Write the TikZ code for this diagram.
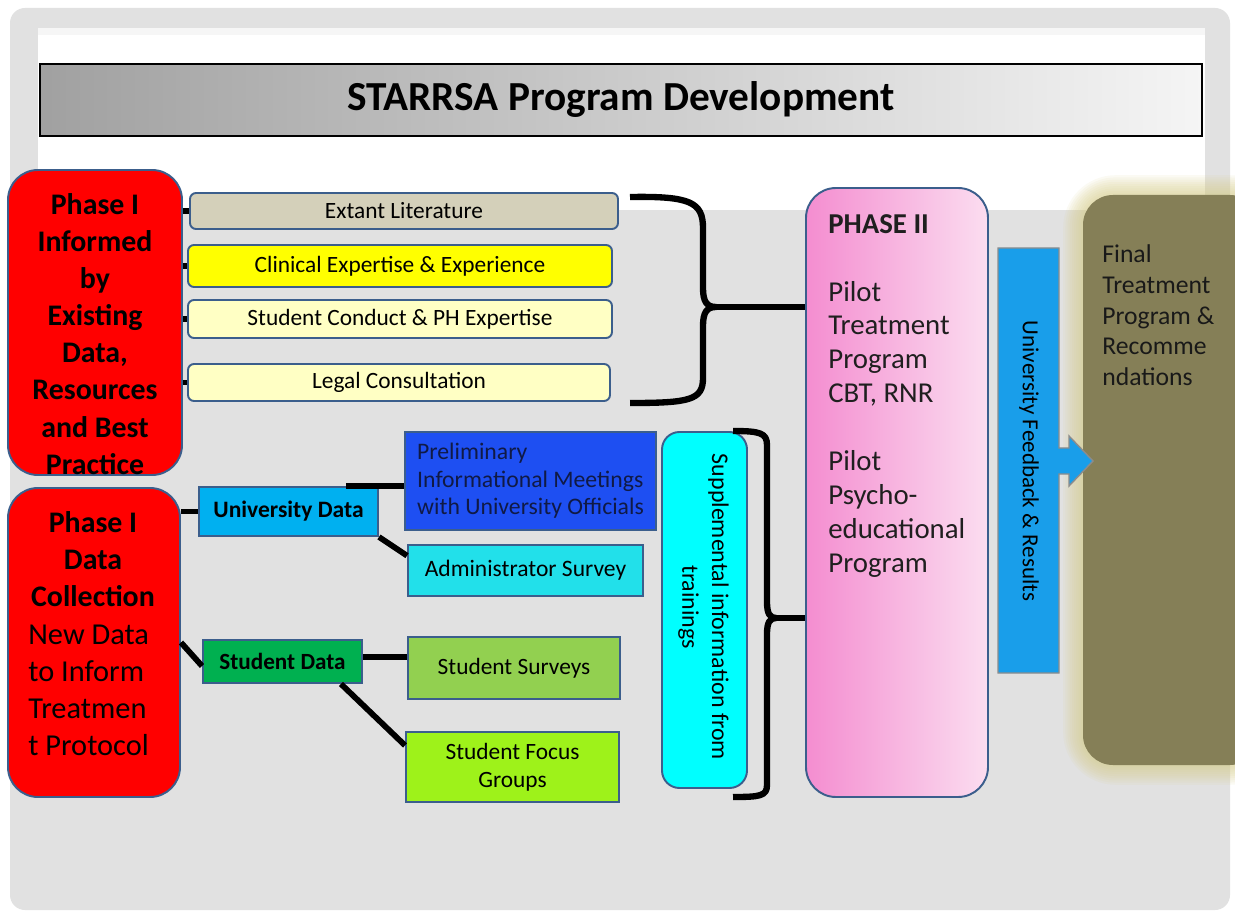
\documentclass[tikz,border=0pt]{standalone}
\usepackage{fontspec}
\setmainfont{Carlito}
\usetikzlibrary{calc}

\definecolor{bggray}{HTML}{E1E1E1}
\definecolor{edge}{HTML}{3B5E8C}
\definecolor{redfill}{HTML}{FF0000}
\definecolor{litfill}{HTML}{D4D0BA}
\definecolor{yelfill}{HTML}{FFFF00}
\definecolor{lyelfill}{HTML}{FFFFC4}
\definecolor{univfill}{HTML}{00B0F0}
\definecolor{prelimfill}{HTML}{1E4FF2}
\definecolor{adminfill}{HTML}{22E0EA}
\definecolor{studfill}{HTML}{00B050}
\definecolor{survfill}{HTML}{92D050}
\definecolor{focusfill}{HTML}{9EF21A}
\definecolor{suppfill}{HTML}{00FFFF}
\definecolor{pinkA}{HTML}{F48DD0}
\definecolor{pinkB}{HTML}{FBDDF0}
\definecolor{fbfill}{HTML}{199EEA}
\definecolor{olivefill}{HTML}{857F57}
\definecolor{glowcol}{HTML}{D6CC85}
\definecolor{navytext}{HTML}{101A45}

\tikzset{
  sz/.style n args={2}{minimum width=#1*0.02cm, minimum height=#2*0.02cm},
  box/.style={draw=edge, line width=1.1pt, inner sep=0pt, align=center, text=black},
  smallbox/.style={box, rounded corners=0.12cm},
  bigbox/.style={box, rounded corners=0.6cm},
  conn/.style={line width=3.3pt, black},
  bracepath/.style={line width=3.6pt, black, line join=round},
  itemfont/.style={font=\fontsize{13.3}{15}\selectfont},
  boldfont/.style={font=\fontsize{13.4}{15}\selectfont\bfseries},
  redbold/.style={font={\fontsize{17}{21.1}\selectfont\bfseries}},
  redplain/.style={font={\fontsize{17.3}{21.1}\selectfont}},
}

\begin{document}
\begin{tikzpicture}[x=0.02cm, y=-0.02cm]
\useasboundingbox (0,0) rectangle (1235,912);
\clip (0,0) rectangle (1235,912);

% slide background
\fill[white] (0,0) rectangle (1235,912);
\fill[bggray, rounded corners=0.3cm] (10,8) rectangle (1230,910);
\fill[white] (38,35) rectangle (1205,210);
\fill[white!70!bggray] (38,28) rectangle (1205,35);

% title bar
\node[draw=black, line width=1.3pt, left color=black!37, right color=white!96!black,
      sz={1162}{72}, inner sep=0pt, font=\fontsize{23.5}{28}\selectfont\bfseries]
      (title) at (621,100) {\raisebox{-2pt}{STARRSA Program Development}};

% Phase I : existing data
\node[bigbox, fill=redfill, sz={174}{305}] (red1) at (95,322.5) {};
\node[redbold, align=center, inner sep=0pt] (red1txt) at (95,334)
  {Phase I\\Informed\\by\\Existing\\Data,\\Resources\\and Best\\Practice};

\node[smallbox, fill=litfill, sz={428}{36}, itemfont] (lit) at (404,211) {Extant Literature};
\node[smallbox, fill=yelfill, sz={424}{42}, itemfont] (clin) at (400,266) {Clinical Expertise \& Experience};
\node[smallbox, fill=lyelfill, sz={424}{38}, itemfont] (cond) at (400,319) {Student Conduct \& PH Expertise};
\node[smallbox, fill=lyelfill, sz={422}{37}, itemfont] (legal) at (399,382.5) {Legal Consultation};

\foreach \n in {lit,clin,cond,legal}
  \draw[conn] (red1.east |- \n.west) -- (\n.west);

% Phase I : data collection
\node[bigbox, fill=redfill, sz={172}{309}] (red2) at (94,642.5) {};
\node[redbold, align=center, inner sep=0pt] (red2head) at (93,559)
  {Phase I\\Data\\Collection};
\node[redplain, align=left, inner sep=0pt, anchor=west] (red2body) at (28,690)
  {New Data\\to Inform\\Treatmen\\t Protocol};

\node[box, fill=univfill, sz={179}{49}, boldfont] (univ) at (288.5,511.5) {University Data};
\node[box, fill=prelimfill, sz={251}{98}, align=left, text=navytext,
      font=\fontsize{13.5}{15.6}\selectfont] (prelim) at (530.5,481)
  {Preliminary\\Informational Meetings\\with University Officials};
\node[box, fill=adminfill, sz={235}{51}, font=\fontsize{13.4}{15}\selectfont] (admin) at (525.5,570.5) {Administrator Survey};
\node[box, fill=studfill, sz={159}{43}, font=\fontsize{13.2}{15}\selectfont\bfseries] (stud) at (282.5,661.5) {Student Data};
\node[box, fill=survfill, sz={212}{62}, font=\fontsize{13.3}{15}\selectfont] (surv) at (514,668) {Student Surveys};
\node[box, fill=focusfill, sz={213}{70}, font=\fontsize{13.3}{16}\selectfont] (focus) at (512.5,767) {Student Focus\\Groups};

\draw[conn] (red2.east |- univ.west) -- (univ.west);
\draw[conn] (red2.east) -- ($(stud.north west)!0.6!(stud.south west)$);
\draw[conn] ($(univ.north east)+(-33,0)$) -- (prelim.west |- univ.north);
\draw[conn] (univ.south east) -- ($(admin.north west)!0.22!(admin.south west)$);
\draw[conn] ($(stud.north east)!0.4!(stud.south east)$) -- (surv.west |- {$(stud.north east)!0.4!(stud.south east)$});
\draw[conn] ($(stud.south east)+(-22,0)$) -- ($(focus.north west)!0.2!(focus.south west)$);

% supplemental trainings
\node[bigbox, fill=suppfill, rounded corners=0.35cm, sz={85}{356}] (supp) at (704.5,610) {};
\node[rotate=-90, align=center, inner sep=0pt, font=\fontsize{13.6}{17}\selectfont] (supptxt)
  at (703.5,607) {Supplemental information from\\trainings};

% Phase II
\node[bigbox, left color=pinkA, right color=pinkB, sz={182}{609}] (phase2) at (897,492.5) {};
\node[anchor=north west, align=left, inner sep=0pt, text=black!88,
      font=\fontsize{16.4}{19.3}\selectfont] (phase2txt) at (828,214)
  {\textbf{PHASE II}\\[19.3pt]Pilot\\Treatment\\Program\\CBT, RNR\\[19.3pt]Pilot\\Psycho-\\educational\\Program};

% braces into Phase II
\coordinate (b1top) at (630,197);
\coordinate (b1bot) at (630,403);
\coordinate (b1tip) at (716,307);
\draw[bracepath] (b1top) .. controls (690,196) and (703,202) .. (703,228)
  -- (703,288) .. controls (703,302) and (707,307) .. (b1tip)
  .. controls (707,307) and (703,312) .. (703,326)
  -- (703,378) .. controls (703,400) and (690,403) .. (b1bot);
\draw[bracepath] (b1tip) -- (phase2.west |- b1tip);

\coordinate (b2top) at (733,431);
\coordinate (b2bot) at (733,797);
\coordinate (b2tip) at (776,618);
\draw[bracepath] (b2top) .. controls (760,431) and (767,433) .. (767,445)
  -- (767,602) .. controls (767,614) and (770,618) .. (b2tip)
  .. controls (770,618) and (767,622) .. (767,634)
  -- (767,785) .. controls (767,796) and (760,797) .. (b2bot);
\draw[bracepath] (b2tip) -- (phase2.west |- b2tip);

% final program, with its soft glow
\foreach \i in {1,...,9}
  \fill[glowcol, opacity=0.09, rounded corners=0.6cm+\i*0.05cm]
    (1083-2.2*\i,195-2.2*\i) rectangle (1262+2.2*\i,765+2.2*\i);
\node[bigbox, draw=none, fill=olivefill, sz={177}{570}] (final) at (1171.5,480) {};
\node[anchor=north west, align=left, inner sep=0pt, text=black!90,
      font=\fontsize{14.6}{17.6}\selectfont] (finaltxt) at (1102,244)
  {Final\\Treatment\\Program \&\\Recomme\\ndations};

% feedback arrow
\draw[draw=black!45, line width=0.8pt, fill=fbfill]
  (998,248) -- (1059,248) -- (1059,448) -- (1069,448) -- (1069,436) -- (1093,461)
  -- (1069,486) -- (1069,474) -- (1059,474) -- (1059,673) -- (998,673) -- cycle;
\node[rotate=-90, inner sep=0pt, font=\fontsize{13.1}{15}\selectfont] (fbtxt) at (1029,461)
  {University Feedback \& Results};

\end{tikzpicture}
\end{document}
